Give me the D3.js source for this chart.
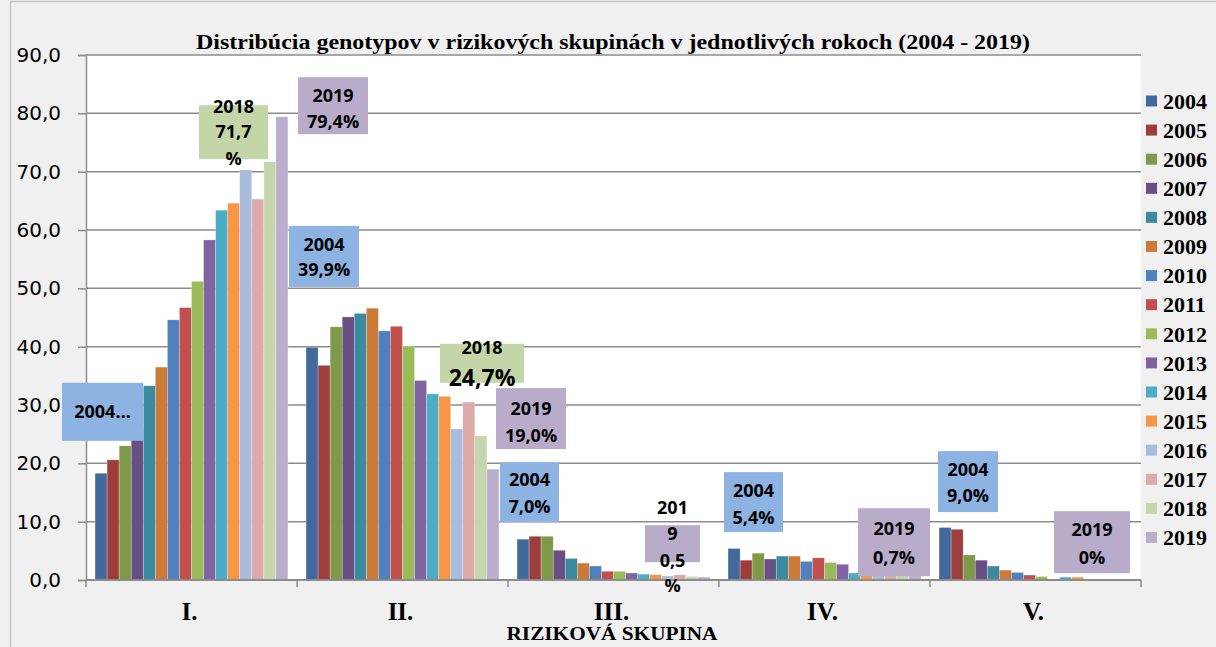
<!DOCTYPE html>
<html>
<head>
<meta charset="utf-8">
<script src="https://cdn.jsdelivr.net/npm/d3@7"></script>
<style>
  html, body { margin: 0; padding: 0; background: #f0f0f0; }
  svg { display: block; }
</style>
</head>
<body>
<div id="chart"></div>
<script>
// risk groups and years
const groups = ["I.", "II.", "III.", "IV.", "V."];
const years = ["2004", "2005", "2006", "2007", "2008", "2009", "2010", "2011",
               "2012", "2013", "2014", "2015", "2016", "2017", "2018", "2019"];

// share (%) per risk group, one value per year
const groupI   = [18.3, 20.6, 23.0, 26.0, 33.3, 36.5, 44.6, 46.7, 51.2, 58.3, 63.4, 64.6, 70.3, 65.3, 71.7, 79.4];
const groupII  = [39.9, 36.8, 43.4, 45.1, 45.7, 46.6, 42.7, 43.5, 40.1, 34.2, 31.9, 31.5, 25.9, 30.5, 24.7, 19.0];
const groupIII = [7.0, 7.5, 7.5, 5.1, 3.7, 2.9, 2.4, 1.5, 1.5, 1.2, 1.0, 0.9, 0.7, 0.9, 0.6, 0.5];
const groupIV  = [5.4, 3.4, 4.6, 3.6, 4.1, 4.1, 3.2, 3.8, 3.0, 2.7, 1.2, 0.9, 0.8, 0.8, 0.8, 0.7];
const groupV   = [9.0, 8.7, 4.3, 3.4, 2.4, 1.7, 1.3, 0.85, 0.6, 0, 0.5, 0.5, 0, 0, 0, 0];

const yTicks = [0, 10, 20, 30, 40, 50, 60, 70, 80, 90];

const colors = ["#41699b", "#9e3e3c", "#7e9a48", "#694e84", "#3a8ba2", "#cc7a38",
                "#4f81bd", "#c0504d", "#9bbb59", "#8064a2", "#4bacc6", "#f79646",
                "#a9bcdb", "#dcaaa9", "#c6d6ac", "#b9aecb"];

// data callouts (text only)
const callouts = [
  {group: "I.",   year: "2004", lines: ["2004…"]},
  {group: "I.",   year: "2018", lines: ["2018", "71,7", "%"]},
  {group: "I.",   year: "2019", lines: ["2019", "79,4%"]},
  {group: "II.",  year: "2004", lines: ["2004", "39,9%"]},
  {group: "II.",  year: "2018", lines: ["2018", "24,7%"]},
  {group: "II.",  year: "2019", lines: ["2019", "19,0%"]},
  {group: "III.", year: "2004", lines: ["2004", "7,0%"]},
  {group: "III.", year: "2019", lines: ["201", "9", "0,5", "%"]},
  {group: "IV.",  year: "2004", lines: ["2004", "5,4%"]},
  {group: "IV.",  year: "2019", lines: ["2019", "0,7%"]},
  {group: "V.",   year: "2004", lines: ["2004", "9,0%"]},
  {group: "V.",   year: "2019", lines: ["2019", "0%"]}
];
// callout box placement: dx from group start, top in axis units, w/h px, line offsets
const calloutLayout = [
  {dx: -24, top: 33.8, w: 81, h: 58, ly: [29], fs: [18]},
  {dx: 113, top: 81.4, w: 69, h: 54, ly: [1, 26, 53], fs: [18, 18, 18]},
  {dx: 212, top: 86.2, w: 70, h: 57, ly: [18, 44], fs: [18, 18]},
  {dx: -8,  top: 60.7, w: 70, h: 61, ly: [19, 44], fs: [18, 18]},
  {dx: 143, top: 40.5, w: 84, h: 39, ly: [4, 34], fs: [18, 23]},
  {dx: 199, top: 32.9, w: 70, h: 61, ly: [20, 47], fs: [18, 18]},
  {dx: -8,  top: 20.2, w: 59, h: 60, ly: [17, 44], fs: [18, 18]},
  {dx: 137, top: 9.4,  w: 55, h: 37, ly: [-18, 8, 35, 60], fs: [18, 18, 18, 18]},
  {dx: 5,   top: 18.5, w: 59, h: 60, ly: [18, 45], fs: [18, 18]},
  {dx: 139, top: 12.3, w: 72, h: 68, ly: [20, 49], fs: [18, 18]},
  {dx: 8,   top: 22.1, w: 60, h: 61, ly: [18, 44], fs: [18, 18]},
  {dx: 124, top: 11.8, w: 76, h: 62, ly: [18, 46], fs: [18, 18]}
];
const calloutFill = {"2004": "#8db3e2", "2018": "#c4d6a8", "2019": "#b8acca"};

const values = [groupI, groupII, groupIII, groupIV, groupV];
const table = groups.map((g, i) => ({group: g, vals: values[i]}));

const W = 1216, H = 647;
const margin = {top: 55, right: 75, bottom: 67, left: 86};

const svg = d3.select("#chart").append("svg")
    .attr("width", W).attr("height", H);

svg.append("rect").attr("x", 0).attr("y", 0).attr("width", W).attr("height", H)
    .attr("fill", "#f0f0f0");
// outer frame
svg.append("path").attr("d", "M10.5," + H + "V1.5H" + W)
    .attr("fill", "none").attr("stroke", "#c4c4c4").attr("stroke-width", 1.5);

const x0 = d3.scaleBand().domain(groups)
    .range([margin.left, W - margin.right]).padding(0);
const x1 = d3.scaleBand().domain(years)
    .range([0, x0.bandwidth()]).paddingInner(0).paddingOuter(0.75);
const y = d3.scaleLinear().domain([0, 90]).range([H - margin.bottom, margin.top]);

// plot area
svg.append("rect")
    .attr("x", margin.left).attr("y", margin.top)
    .attr("width", W - margin.right - margin.left)
    .attr("height", y(0) - margin.top)
    .attr("fill", "#fff");

// gridlines
svg.append("g").selectAll("line").data(yTicks.filter(d => d > 0)).join("line")
    .attr("x1", margin.left).attr("x2", W - margin.right)
    .attr("y1", d => y(d)).attr("y2", d => y(d))
    .attr("stroke", "#8c8c8c").attr("stroke-width", 1.5);

// y axis
const yAxis = svg.append("g")
    .attr("transform", "translate(" + margin.left + ",0)")
    .call(d3.axisLeft(y).tickValues(yTicks).tickSize(8).tickPadding(17)
        .tickFormat(d => d3.format(".1f")(d).replace(".", ",")));
yAxis.select(".domain").attr("stroke", "#8c8c8c").attr("stroke-width", 1.5);
yAxis.selectAll(".tick line").attr("stroke", "#8c8c8c").attr("stroke-width", 1.5);
yAxis.selectAll(".tick text")
    .attr("font-family", "DejaVu Sans").attr("font-size", 20).attr("fill", "#000");

// bars
const gGroups = svg.append("g").selectAll("g").data(table).join("g")
    .attr("transform", d => "translate(" + x0(d.group) + ",0)");
gGroups.selectAll("rect").data(d => d.vals.map((v, i) => ({year: years[i], v: v})))
    .join("rect")
    .attr("x", d => x1(d.year))
    .attr("width", x1.bandwidth())
    .attr("y", d => y(d.v))
    .attr("height", d => y(0) - y(d.v))
    .attr("fill", (d, i) => colors[i])
    .attr("stroke", "#ffffff").attr("stroke-opacity", 0.45).attr("stroke-width", 0.6);

// x axis
const xAxis = svg.append("g")
    .attr("transform", "translate(0," + y(0) + ")");
xAxis.append("line")
    .attr("x1", margin.left).attr("x2", W - margin.right)
    .attr("stroke", "#8c8c8c").attr("stroke-width", 2);
xAxis.selectAll(".tk").data(groups.concat(["end"])).join("line")
    .attr("class", "tk")
    .attr("x1", d => d === "end" ? W - margin.right : x0(d))
    .attr("x2", d => d === "end" ? W - margin.right : x0(d))
    .attr("y1", 0).attr("y2", 7)
    .attr("stroke", "#8c8c8c").attr("stroke-width", 1.5);
xAxis.selectAll(".lbl").data(groups).join("text")
    .attr("class", "lbl")
    .attr("x", d => x0(d) + x0.bandwidth() / 2 - 2)
    .attr("y", 40)
    .attr("text-anchor", "middle")
    .attr("font-family", "Liberation Serif").attr("font-weight", "bold")
    .attr("font-size", 25)
    .text(d => d);

// axis title
svg.append("text")
    .attr("x", 612).attr("y", 640)
    .attr("text-anchor", "middle")
    .attr("font-family", "Liberation Serif").attr("font-weight", "bold")
    .attr("font-size", 19)
    .attr("textLength", 211).attr("lengthAdjust", "spacingAndGlyphs")
    .text("RIZIKOVÁ SKUPINA");

// chart title
svg.append("text")
    .attr("x", 613).attr("y", 49)
    .attr("text-anchor", "middle")
    .attr("font-family", "Liberation Serif").attr("font-weight", "bold")
    .attr("font-size", 21)
    .attr("textLength", 834).attr("lengthAdjust", "spacingAndGlyphs")
    .text("Distribúcia genotypov v rizikových skupinách v jednotlivých rokoch (2004 - 2019)");

// callouts
callouts.forEach((c, i) => {
    const L = calloutLayout[i];
    const bx = x0(c.group) + L.dx, by = y(L.top);
    const g = svg.append("g");
    g.append("rect")
        .attr("x", bx).attr("y", by).attr("width", L.w).attr("height", L.h)
        .attr("fill", calloutFill[c.year]);
    c.lines.forEach((t, j) => {
        g.append("text")
            .attr("x", bx + L.w / 2).attr("y", by + L.ly[j])
            .attr("dy", "0.36em")
            .attr("text-anchor", "middle")
            .attr("font-family", "Open Sans").attr("font-weight", "bold")
            .attr("font-size", L.fs[j])
            .attr("fill", "#000")
            .text(t);
    });
});

// legend
const legend = svg.append("g").selectAll("g").data(years).join("g")
    .attr("transform", (d, i) => "translate(1146," + (101 + i * 29.1) + ")");
legend.append("rect")
    .attr("x", 0).attr("y", -5.5).attr("width", 11).attr("height", 11)
    .attr("fill", (d, i) => colors[i]);
legend.append("text")
    .attr("x", 17).attr("y", 0).attr("dy", "0.35em")
    .attr("font-family", "Liberation Serif").attr("font-weight", "bold")
    .attr("font-size", 22)
    .text(d => d);
</script>
</body>
</html>
